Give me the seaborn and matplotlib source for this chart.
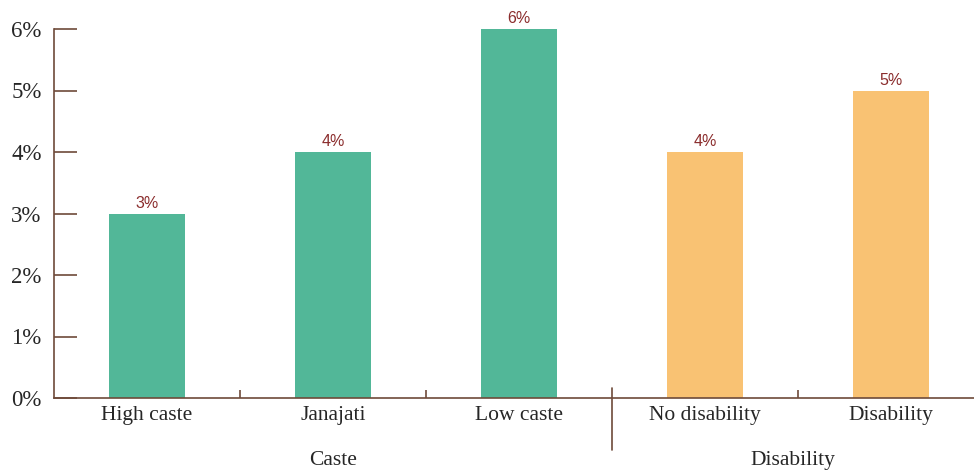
import pandas as pd
import matplotlib.pyplot as plt
import seaborn as sns
from matplotlib.lines import Line2D
from matplotlib.ticker import FuncFormatter

# 數據
categories = ['High caste', 'Janajati', 'Low caste', 'No disability', 'Disability']
values = [3, 4, 6, 4, 5]
groups = ['Caste', 'Caste', 'Caste', 'Disability', 'Disability']
group_names = ['Caste', 'Disability']
group_colors = {'Caste': '#52b798', 'Disability': '#f9c273'}

axis_color = '#6e4a3a'
label_color = '#8b2d2d'

df = pd.DataFrame({'category': categories, 'value': values, 'group': groups})

sns.set_style('white')
plt.rcParams['font.family'] = ['Liberation Serif', 'DejaVu Serif']

fig = plt.figure(figsize=(9.74, 4.72), dpi=100)
ax = fig.add_axes([54 / 974, 74 / 472, 920 / 974, 369 / 472])

sns.barplot(data=df, x='category', y='value', hue='group', palette=group_colors,
            dodge=False, width=0.41, legend=False, saturation=1, linewidth=0, ax=ax)

ax.set_xlim(-0.5, -0.5 + 920 / 186)
ax.set_ylim(0, 6)
ax.set_yticks(range(7))
ax.yaxis.set_major_formatter(FuncFormatter(lambda v, p: f'{int(v)}%'))
ax.tick_params(axis='y', direction='in', length=16.5, width=1.2, color=axis_color,
               labelsize=16.5, pad=9, left=True)
ax.tick_params(axis='x', which='major', length=0, labelsize=15.5, pad=6, bottom=True)
ax.set_xticks([0.5, 1.5, 3.5], minor=True)
ax.tick_params(axis='x', which='minor', direction='in', length=6, width=1.2,
               color=axis_color, bottom=True)
ax.set_xlabel('')
ax.set_ylabel('')

for s in ['top', 'right']:
    ax.spines[s].set_visible(False)
for s in ['left', 'bottom']:
    ax.spines[s].set_color(axis_color)
    ax.spines[s].set_linewidth(1.2)

# 數值標籤
for i, v in enumerate(values):
    ax.annotate(f'{v}%', (i, v), xytext=(0, 2), textcoords='offset points',
                ha='center', va='bottom', fontsize=11.5, color=label_color,
                family=['Liberation Sans', 'DejaVu Sans'])

# 分組分隔線與分組標籤
trans = ax.get_xaxis_transform()
ax.add_line(Line2D([2.5, 2.5], [10 / 369, -52 / 369], transform=trans,
                   color=axis_color, lw=1.2, clip_on=False))
group_centers = [(-0.5 + 2.5) / 2, (2.5 + ax.get_xlim()[1]) / 2]
for name, cx in zip(group_names, group_centers):
    ax.text(cx, -67 / 369, name, transform=trans, ha='center', va='baseline', fontsize=15.5)

plt.savefig('out.png', dpi=100)
